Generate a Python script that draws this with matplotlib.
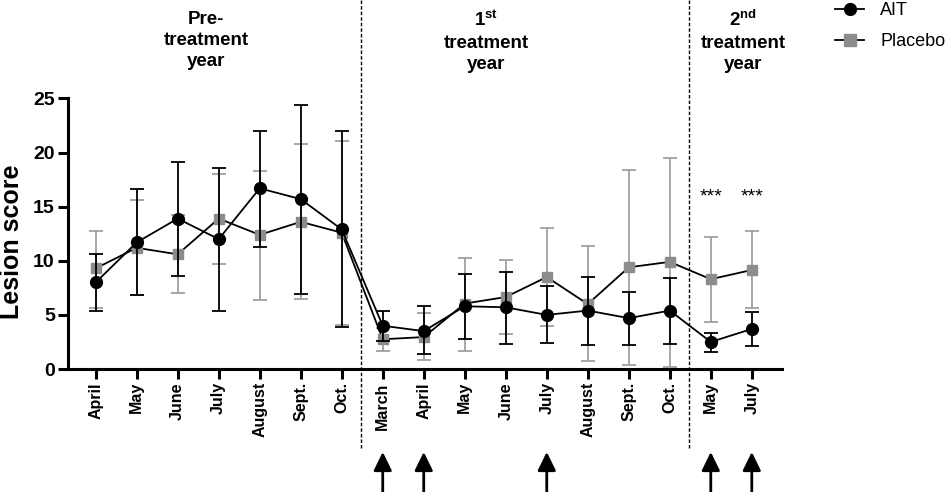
import matplotlib
matplotlib.use('Agg')
import matplotlib.pyplot as plt
from matplotlib.lines import Line2D
import numpy as np

plt.rcParams['font.family'] = ['Liberation Sans', 'DejaVu Sans']
plt.rcParams['mathtext.fontset'] = 'custom'
plt.rcParams['mathtext.rm'] = 'Liberation Sans'
plt.rcParams['mathtext.bf'] = 'Liberation Sans:bold'

# data (mean, upper and lower end of error bar)
months = ['April', 'May', 'June', 'July', 'August', 'Sept.', 'Oct.',
          'March', 'April', 'May', 'June', 'July', 'August', 'Sept.', 'Oct.',
          'May', 'July']

ait_mean = [8.0, 11.7, 13.9, 12.0, 16.7, 15.7, 12.9,
            4.0, 3.5, 5.8, 5.7, 5.0, 5.4, 4.7, 5.4, 2.5, 3.7]
ait_upper = [10.6, 16.6, 19.1, 18.6, 22.0, 24.4, 22.0,
             5.4, 5.8, 8.8, 9.0, 7.7, 8.5, 7.1, 8.4, 3.3, 5.25]
ait_lower = [5.4, 6.8, 8.6, 5.4, 11.3, 6.9, 3.9,
             2.6, 1.4, 2.75, 2.35, 2.4, 2.2, 2.2, 2.35, 1.6, 2.1]

plc_mean = [9.3, 11.2, 10.6, 13.9, 12.4, 13.6, 12.6,
            2.75, 2.95, 6.05, 6.65, 8.5, 6.0, 9.4, 9.9, 8.3, 9.15]
plc_upper = [12.8, 15.6, 14.2, 18.0, 18.3, 20.75, 21.1,
             3.8, 5.15, 10.3, 10.05, 13.0, 11.35, 18.4, 19.5, 12.2, 12.75]
plc_lower = [5.6, 6.8, 7.0, 9.7, 6.4, 6.45, 4.1,
             1.7, 0.85, 1.7, 3.2, 4.0, 0.7, 0.4, 0.2, 4.35, 5.6]

periods = [r'Pre-', r'$\mathbf{1^{st}}$', r'$\mathbf{2^{nd}}$']
arrow_idx = [7, 8, 11, 15, 16]
signif_idx = [15, 16]

x = np.arange(len(months))
ait_mean = np.array(ait_mean)
plc_mean = np.array(plc_mean)
ait_err = [ait_mean - np.array(ait_lower), np.array(ait_upper) - ait_mean]
plc_err = [plc_mean - np.array(plc_lower), np.array(plc_upper) - plc_mean]

fig = plt.figure(figsize=(9.48, 4.92), dpi=100)
ax = fig.add_axes([0.0717, 0.25, 0.8246 - 0.0717, 0.5498])

ax.errorbar(x, plc_mean, yerr=plc_err, color='k', lw=1.3, marker='s', ms=7.5,
            mfc='#8c8c8c', mec='#8c8c8c', ecolor='#a0a0a0', elinewidth=1.3,
            capsize=5, capthick=1.3, zorder=2)
ax.errorbar(x, ait_mean, yerr=ait_err, color='k', lw=1.3, marker='o', ms=8.5,
            mfc='k', mec='k', ecolor='k', elinewidth=1.3,
            capsize=5, capthick=1.3, zorder=3)

ax.set_xlim(-0.676, 16.73)
ax.set_ylim(0, 25)
ax.set_yticks([0, 5, 10, 15, 20, 25])
ax.set_xticks(x)
ax.set_xticklabels(months, rotation=90, fontweight='bold', fontsize=11.5)
for t in ax.get_yticklabels():
    t.set_fontweight('bold')
    t.set_fontsize(14)
ax.tick_params(width=2.2, length=7, pad=2.5)
for s in ['top', 'right']:
    ax.spines[s].set_visible(False)
for s in ['left', 'bottom']:
    ax.spines[s].set_linewidth(2.2)

ax.set_ylabel('Lesion score', fontsize=18, fontweight='bold')
ax.yaxis.set_label_coords(-0.062, 0.47)

# period separators
for xd in [6.46, 14.48]:
    ax.axvline(xd, ymin=-0.292, ymax=1.37, color='k', lw=1.0,
               ls=(0, (2.5, 1.5)), clip_on=False)

# period headers
hx = [2.69, 9.52, 15.79]
tr = ax.get_xaxis_transform()
for i, h in enumerate(periods):
    if i == 0:
        ys = [1.292, 1.215, 1.135]
    else:
        ys = [1.292, 1.205, 1.125]
    ax.text(hx[i], ys[0], h, transform=tr, ha='center', va='center',
            fontsize=13.5, fontweight='bold')
    ax.text(hx[i], ys[1], 'treatment', transform=tr, ha='center', va='center',
            fontsize=13.5, fontweight='bold')
    ax.text(hx[i], ys[2], 'year', transform=tr, ha='center', va='center',
            fontsize=13.5, fontweight='bold')

# treatment arrows
for i in arrow_idx:
    ax.annotate('', xy=(x[i], -0.3066), xytext=(x[i], -0.46),
                xycoords=('data', 'axes fraction'),
                textcoords=('data', 'axes fraction'),
                arrowprops=dict(arrowstyle='-|>,head_length=0.45,head_width=0.22',
                                lw=2, color='k', mutation_scale=25,
                                shrinkA=0, shrinkB=0),
                annotation_clip=False)

for i in signif_idx:
    ax.text(x[i], 15.5, '***', ha='center', va='baseline', fontsize=14)

handles = [Line2D([], [], color='k', lw=1.3, marker='o', ms=8.5, mfc='k', mec='k'),
           Line2D([], [], color='k', lw=1.3, marker='s', ms=8,
                  mfc='#8c8c8c', mec='#8c8c8c')]
fig.legend(handles, ['AIT', 'Placebo'], loc='upper left',
           bbox_to_anchor=(0.881, 0.995), frameon=False, fontsize=13,
           borderpad=0, borderaxespad=0, handlelength=1.6,
           handletextpad=0.9, labelspacing=0.75)

fig.savefig('out.png', dpi=100)
